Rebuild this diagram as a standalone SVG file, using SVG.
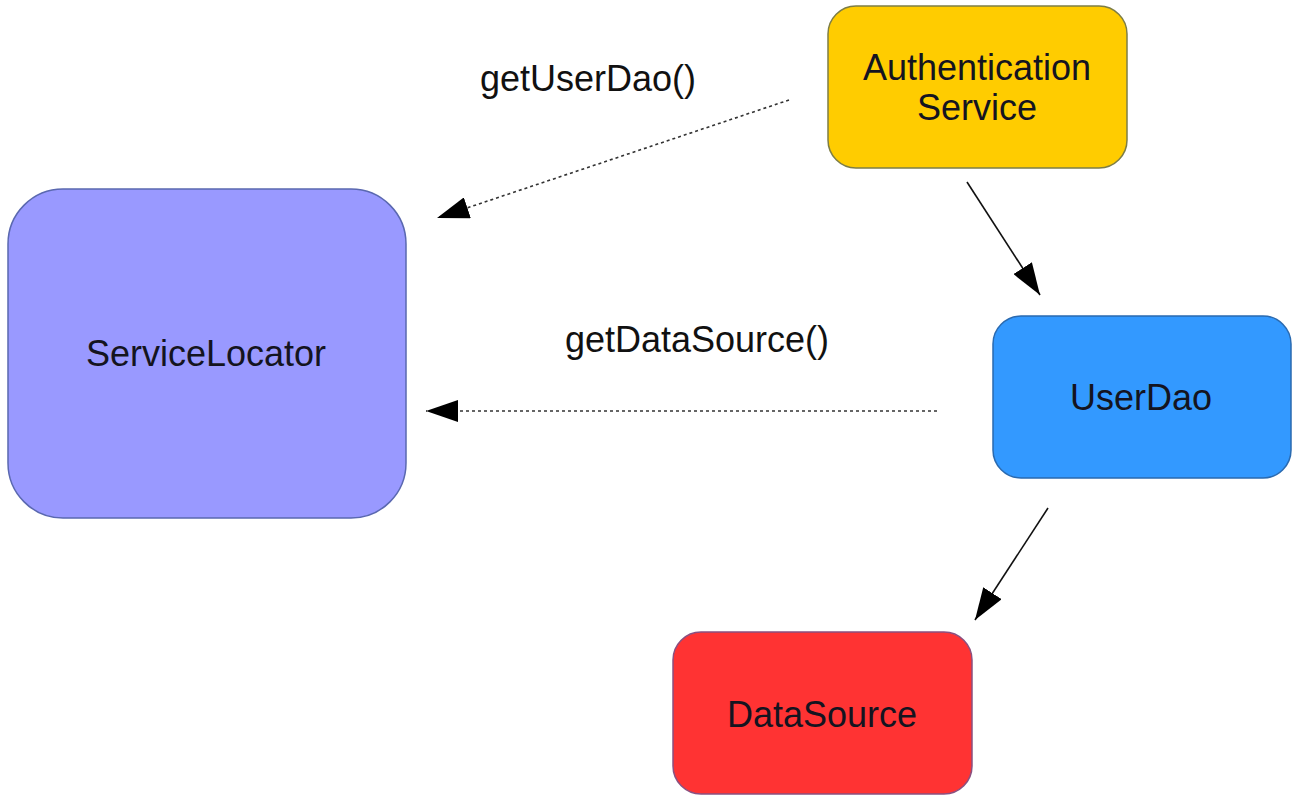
<svg xmlns="http://www.w3.org/2000/svg" width="1296" height="796" viewBox="0 0 1296 796">
<style>
text{font-family:"Liberation Sans",Arial,sans-serif;font-size:36px;fill:#141420;text-anchor:middle}
.lbl{fill:#111}
.solid{stroke:#111;stroke-width:1.6;fill:none}
.dash{stroke:#333;stroke-width:1.6;fill:none;stroke-dasharray:3,3}
</style>
<defs>
<marker id="ah" viewBox="0 0 32 22" refX="32" refY="11" markerWidth="32" markerHeight="22" markerUnits="userSpaceOnUse" orient="auto">
<path d="M0,0 L32,11 L0,22 Z" fill="#000"/>
</marker>
</defs>
<rect width="1296" height="796" fill="#fff"/>
<g id="connectors">
<line class="dash" x1="789" y1="100" x2="437" y2="218" marker-end="url(#ah)"/>
<line class="dash" x1="937" y1="411" x2="426" y2="411" marker-end="url(#ah)"/>
<line class="solid" x1="967" y1="182" x2="1040" y2="295" marker-end="url(#ah)"/>
<line class="solid" x1="1048" y1="508" x2="975" y2="620" marker-end="url(#ah)"/>
<text class="lbl" x="588" y="91">getUserDao()</text>
<text class="lbl" x="697" y="352">getDataSource()</text>
</g>
<g id="servicelocator">
<rect x="8" y="189" width="398" height="329" rx="55" fill="#9999ff" stroke="#5a68b0" stroke-width="1.5"/>
<text x="206" y="366">ServiceLocator</text>
</g>
<g id="authservice">
<rect x="828" y="6" width="299" height="162" rx="28" fill="#ffcc00" stroke="#7d7d45" stroke-width="1.5"/>
<text x="977" y="80">Authentication</text>
<text x="977" y="120">Service</text>
</g>
<g id="userdao">
<rect x="993" y="316" width="298" height="162" rx="28" fill="#3399ff" stroke="#2a6ab0" stroke-width="1.5"/>
<text x="1141" y="410">UserDao</text>
</g>
<g id="datasource">
<rect x="673" y="632" width="299" height="162" rx="28" fill="#ff3333" stroke="#8a5080" stroke-width="1.5"/>
<text x="822" y="727">DataSource</text>
</g>
</svg>
